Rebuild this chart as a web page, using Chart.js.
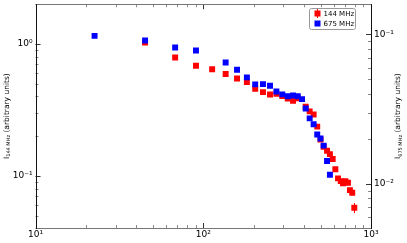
<!DOCTYPE html>
<html>
<head>
<meta charset="utf-8">
<script src="https://cdn.jsdelivr.net/npm/chart.js@4/dist/chart.umd.min.js"></script>
<style>
  html, body { margin: 0; padding: 0; background: #fff; }
  #c { display: block; }
</style>
</head>
<body>
<canvas id="c" width="407" height="243"></canvas>
<script>
// ---- Data ----
const freq144 = [45, 68, 90.5, 113, 136, 159, 182, 204, 227, 250, 273, 296, 319, 343, 366, 408, 431, 455, 478, 500, 522, 547, 569, 591, 613, 636, 660, 681, 703, 729, 749, 773, 795];
const int144  = [1.025, 0.789, 0.684, 0.643, 0.592, 0.547, 0.515, 0.456, 0.431, 0.414, 0.418, 0.402, 0.386, 0.371, 0.387, 0.334, 0.308, 0.292, 0.236, 0.188, 0.166, 0.155, 0.146, 0.134, 0.112, 0.0956, 0.0911, 0.0876, 0.0911, 0.0885, 0.0779, 0.0743, 0.0572];
const err144  = [0, 0, 0, 0, 0, 0, 0, 0, 0, 0, 0, 0, 0, 0, 0, 0, 0, 0, 0, 0, 0, 0, 0, 0, 0.003, 0.003, 0.003, 0.003, 0.003, 0.003, 0.003, 0.003, 0.005];

const freq675 = [22.5, 45, 68, 90.5, 136, 159, 182, 204, 227, 250, 273, 296, 319, 343, 366, 388, 408, 431, 455, 478, 500, 522, 547, 569];
const int675  = [0.0979, 0.0912, 0.0818, 0.0781, 0.0650, 0.0580, 0.0516, 0.0463, 0.0465, 0.0453, 0.0415, 0.0397, 0.0386, 0.0390, 0.0386, 0.0369, 0.0319, 0.0274, 0.0250, 0.0214, 0.0201, 0.0180, 0.0142, 0.0115];

const seriesLabels = ['144 MHz', '675 MHz'];
const seriesColors = ['#ff0000', '#0000ff'];

const xTickValues  = [10, 100, 1000];
const xTickLabels  = ['10¹', '10²', '10³'];
const yTickValues  = [1, 0.1];
const yTickLabels  = ['10⁰', '10⁻¹'];
const y2TickValues = [0.1, 0.01];
const y2TickLabels = ['10⁻¹', '10⁻²'];

const yTitle  = ['I', '144 MHz', ' (arbitrary units)'];
const y2Title = ['I', '675 MHz', ' (arbitrary units)'];

// ---- helpers ----
function logTicks(min, max) {
  const out = [];
  for (let e = Math.floor(Math.log10(min)); e <= Math.ceil(Math.log10(max)); e++) {
    for (let m = 1; m <= 9; m++) {
      const v = m * Math.pow(10, e);
      if (v >= min * 0.9999 && v <= max * 1.0001) out.push({ v: v, major: m === 1 });
    }
  }
  return out;
}
function labelFor(values, labels, v) {
  for (let i = 0; i < values.length; i++) {
    if (Math.abs(v - values[i]) / values[i] < 1e-6) return labels[i];
  }
  return '';
}
const FONT = "'DejaVu Sans', sans-serif";

const xs = { min: 10, max: 1000 };
const ys = { min: 0.0402, max: 2.0 };
const y2s = { min: 0.00505, max: 0.1596 };

const framePlugin = {
  id: 'frame',
  beforeDatasetsDraw(chart) {
    const ctx = chart.ctx, x = chart.scales.x, y = chart.scales.y;
    ctx.save();
    ctx.strokeStyle = seriesColors[0];
    ctx.lineWidth = 1;
    for (let i = 0; i < freq144.length; i++) {
      if (!err144[i]) continue;
      const px = Math.round(x.getPixelForValue(freq144[i])) + 0.5;
      ctx.beginPath();
      ctx.moveTo(px, y.getPixelForValue(int144[i] - err144[i]));
      ctx.lineTo(px, y.getPixelForValue(int144[i] + err144[i]));
      ctx.stroke();
    }
    ctx.restore();
  },
  afterDatasetsDraw(chart) {
    const ctx = chart.ctx, a = chart.chartArea;
    const x = chart.scales.x, y = chart.scales.y, y2 = chart.scales.y2;
    ctx.save();
    ctx.lineWidth = 1;
    const drawTick = (x1, y1, x2, y2_, col) => {
      ctx.strokeStyle = col;
      ctx.beginPath(); ctx.moveTo(x1, y1); ctx.lineTo(x2, y2_); ctx.stroke();
    };
    logTicks(xs.min, xs.max).forEach(t => {
      const px = Math.round(x.getPixelForValue(t.v)) + 0.5;
      const L = t.major ? 5 : 3;
      const col = t.major ? '#333' : '#888';
      drawTick(px, a.bottom, px, a.bottom - L, col);
      drawTick(px, a.top, px, a.top + L, col);
    });
    logTicks(ys.min, ys.max).forEach(t => {
      const py = Math.round(y.getPixelForValue(t.v)) + 0.5;
      const L = t.major ? 5 : 3;
      drawTick(a.left, py, a.left + L, py, t.major ? '#333' : '#888');
    });
    logTicks(y2s.min, y2s.max).forEach(t => {
      const py = Math.round(y2.getPixelForValue(t.v)) + 0.5;
      const L = t.major ? 5 : 3;
      drawTick(a.right, py, a.right - L, py, t.major ? '#333' : '#888');
    });
    // frame
    ctx.strokeStyle = '#777';
    ctx.beginPath();
    ctx.moveTo(a.left, Math.round(a.top) + 0.5); ctx.lineTo(a.right, Math.round(a.top) + 0.5);
    ctx.moveTo(a.left, Math.round(a.bottom) + 0.5); ctx.lineTo(a.right, Math.round(a.bottom) + 0.5);
    ctx.stroke();
    ctx.strokeStyle = '#111';
    ctx.beginPath();
    ctx.moveTo(Math.round(a.left) + 0.5, a.top); ctx.lineTo(Math.round(a.left) + 0.5, a.bottom + 1);
    ctx.moveTo(Math.round(a.right) + 0.5, a.top); ctx.lineTo(Math.round(a.right) + 0.5, a.bottom + 1);
    ctx.stroke();

    const drawTitle = (parts, cx, cy) => {
      ctx.save();
      ctx.translate(cx, cy);
      ctx.rotate(-Math.PI / 2);
      ctx.fillStyle = '#000';
      ctx.textBaseline = 'middle';
      const f1 = '7.5px ' + FONT, f2 = '5px ' + FONT;
      ctx.font = f1; const w0 = ctx.measureText(parts[0]).width;
      ctx.font = f2; const w1 = ctx.measureText(parts[1]).width;
      ctx.font = f1; const w2 = ctx.measureText(parts[2]).width;
      let sx = -(w0 + w1 + w2) / 2;
      ctx.textAlign = 'left';
      ctx.font = f1; ctx.fillText(parts[0], sx, 0); sx += w0;
      ctx.font = f2; ctx.fillText(parts[1], sx, 2); sx += w1;
      ctx.font = f1; ctx.fillText(parts[2], sx, 0);
      ctx.restore();
    };
    const cy = (a.top + a.bottom) / 2;
    drawTitle(yTitle, 7, cy);
    drawTitle(y2Title, 398.5, cy);

    // legend
    const lx = 309.5, ly = 8.5, lw = 46, lh = 21, r = 2;
    ctx.fillStyle = '#fff';
    ctx.strokeStyle = '#999';
    ctx.beginPath();
    ctx.moveTo(lx + r, ly); ctx.lineTo(lx + lw - r, ly); ctx.arcTo(lx + lw, ly, lx + lw, ly + r, r);
    ctx.lineTo(lx + lw, ly + lh - r); ctx.arcTo(lx + lw, ly + lh, lx + lw - r, ly + lh, r);
    ctx.lineTo(lx + r, ly + lh); ctx.arcTo(lx, ly + lh, lx, ly + lh - r, r);
    ctx.lineTo(lx, ly + r); ctx.arcTo(lx, ly, lx + r, ly, r);
    ctx.closePath(); ctx.fill(); ctx.stroke();
    ctx.font = '7px ' + FONT;
    ctx.textBaseline = 'middle';
    ctx.textAlign = 'left';
    seriesLabels.forEach((lab, i) => {
      const my = ly + 5 + i * 10;
      ctx.fillStyle = seriesColors[i];
      ctx.fillRect(lx + 5, my - 3, 6, 6);
      if (i === 0) {
        ctx.strokeStyle = seriesColors[i];
        ctx.beginPath(); ctx.moveTo(lx + 8, my - 4.5); ctx.lineTo(lx + 8, my + 4.5); ctx.stroke();
      }
      ctx.fillStyle = '#000';
      ctx.fillText(lab, lx + 14, my + 0.5);
    });
    ctx.restore();
  }
};

const tickFont = { family: FONT, size: 9 };

new Chart(document.getElementById('c'), {
  type: 'scatter',
  data: {
    datasets: [
      {
        label: seriesLabels[1],
        data: freq675.map((f, i) => ({ x: f, y: int675[i] })),
        yAxisID: 'y2',
        backgroundColor: seriesColors[1],
        borderColor: seriesColors[1],
        borderWidth: 0,
        pointStyle: 'rect',
        pointRadius: 4.2
      },
      {
        label: seriesLabels[0],
        data: freq144.map((f, i) => ({ x: f, y: int144[i] })),
        yAxisID: 'y',
        backgroundColor: seriesColors[0],
        borderColor: seriesColors[0],
        borderWidth: 0,
        pointStyle: 'rect',
        pointRadius: 4.2
      }
    ]
  },
  options: {
    responsive: false,
    animation: false,
    events: [],
    layout: { padding: { top: 4, left: 0, right: 0, bottom: 0 } },
    plugins: { legend: { display: false }, tooltip: { enabled: false }, title: { display: false } },
    scales: {
      x: {
        type: 'logarithmic', position: 'bottom', min: xs.min, max: xs.max,
        grid: { display: false, drawTicks: false },
        border: { display: false },
        afterBuildTicks: s => { s.ticks = logTicks(xs.min, xs.max).map(t => ({ value: t.v })); },
        afterFit: s => { s.height = 15; s.paddingLeft = 0; s.paddingRight = 0; s.paddingTop = 0; s.paddingBottom = 0; },
        ticks: {
          autoSkip: false, maxRotation: 0, minRotation: 0, padding: 1, color: '#000', font: tickFont,
          callback: v => labelFor(xTickValues, xTickLabels, v)
        }
      },
      y: {
        type: 'logarithmic', position: 'left', min: ys.min, max: ys.max,
        grid: { display: false, drawTicks: false },
        border: { display: false },
        afterBuildTicks: s => { s.ticks = logTicks(ys.min, ys.max).map(t => ({ value: t.v })); },
        afterFit: s => { s.width = 35.5; s.paddingTop = 0; s.paddingBottom = 0; s.paddingLeft = 0; s.paddingRight = 0; },
        ticks: {
          autoSkip: false, padding: 3, color: '#000', font: tickFont,
          callback: v => labelFor(yTickValues, yTickLabels, v)
        }
      },
      y2: {
        type: 'logarithmic', position: 'right', min: y2s.min, max: y2s.max,
        grid: { display: false, drawTicks: false },
        border: { display: false },
        afterBuildTicks: s => { s.ticks = logTicks(y2s.min, y2s.max).map(t => ({ value: t.v })); },
        afterFit: s => { s.width = 36; s.paddingTop = 0; s.paddingBottom = 0; s.paddingLeft = 0; s.paddingRight = 0; },
        ticks: {
          autoSkip: false, padding: 3, color: '#000', font: tickFont,
          callback: v => labelFor(y2TickValues, y2TickLabels, v)
        }
      }
    }
  },
  plugins: [framePlugin]
});
</script>
</body>
</html>
